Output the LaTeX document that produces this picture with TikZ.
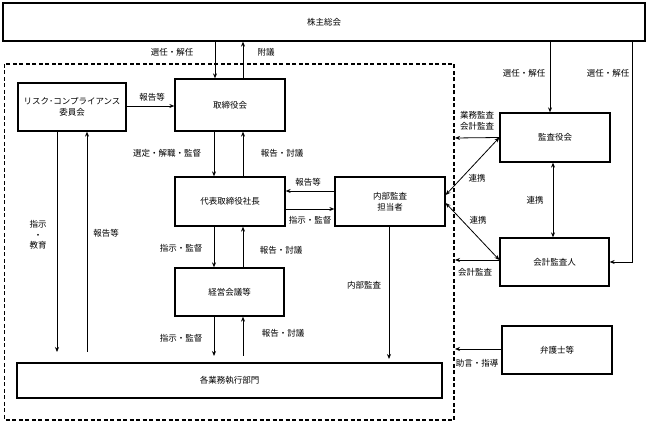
\documentclass[tikz,border=0pt]{standalone}
\usepackage{fontspec}
\setmainfont{Noto Sans CJK JP}
\usetikzlibrary{arrows.meta}
\begin{document}
\begin{tikzpicture}[x=1pt,y=-1pt,
  box/.style={draw,line width=1.3pt,inner sep=0pt,align=center,font=\fontsize{8.5}{11}\selectfont},
  arr/.style={line width=0.8pt,-{Stealth[length=5pt,width=4pt]}},
  darr/.style={line width=0.8pt,{Stealth[length=5pt,width=4pt]}-{Stealth[length=5pt,width=4pt]}},
  lbl/.style={inner sep=0pt,align=center,font=\fontsize{8.5}{10.5}\selectfont},
  lbll/.style={inner sep=0pt,align=left,font=\fontsize{8.5}{11}\selectfont}]
\useasboundingbox[fill=white] (0,0) rectangle (648,427);
% dashed frame
\draw[line width=1.3pt,dash pattern=on 4pt off 2.5pt] (4.5,64) rectangle (454,420);
% boxes
\node[box,minimum width=642pt,minimum height=38pt] (sh) at (324,22) {株主総会};
\node[box,minimum width=108pt,minimum height=48pt] (risk) at (72,107) {リスク･コンプライアンス\\委員会};
\node[box,minimum width=110pt,minimum height=52pt] (bod) at (230,105) {取締役会};
\node[box,minimum width=110pt,minimum height=49pt] (ceo) at (230,201.5) {代表取締役社長};
\node[box,minimum width=110pt,minimum height=49pt] (ia) at (390,201.5) {内部監査\\担当者};
\node[box,minimum width=110pt,minimum height=49pt] (kab) at (555,137.5) {監査役会};
\node[box,minimum width=109pt,minimum height=48pt] (acc) at (554.5,262) {会計監査人};
\node[box,minimum width=109pt,minimum height=48pt] (mgmt) at (229.5,292) {経営会議等};
\node[box,minimum width=425pt,minimum height=35pt] (ops) at (229.5,380.5) {各業務執行部門};
\node[box,minimum width=110pt,minimum height=48pt] (law) at (557,350) {弁護士等};
% free ends
\coordinate (dK) at (455,138);
\coordinate (dA) at (455,260);
\coordinate (dL) at (455,349);
\coordinate (rk1) at (57,352);
\coordinate (rk2) at (87,352);
\coordinate (mg1) at (214,356);
\coordinate (mg2) at (243,356);
\coordinate (ia1) at (389,359);
\coordinate (corner) at (632,262);
% shareholders - board
\draw[arr] (sh.south -| 215,0) -- (bod.north -| 215,0);
\draw[arr] (bod.north -| 243,0) -- (sh.south -| 243,0);
\node[lbl] at (172,52) {選任・解任};
\node[lbl] at (266,52) {附議};
% risk -> board
\draw[arr] (risk.east |- 0,106) -- (bod.west |- 0,106);
\node[lbl] at (152,97) {報告等};
% board - ceo
\draw[arr] (bod.south -| 214,0) -- (ceo.north -| 214,0);
\draw[arr] (ceo.north -| 243,0) -- (bod.south -| 243,0);
\node[lbl] at (167,153) {選定・解職・監督};
\node[lbl] at (282,153) {報告・討議};
% ceo - ia
\draw[arr] (ia.west |- 0,191) -- (ceo.east |- 0,191);
\draw[arr] (ceo.east |- 0,209) -- (ia.west |- 0,209);
\node[lbl] at (308,182) {報告等};
\node[lbl] at (310,220) {指示・監督};
% ceo - mgmt
\draw[arr] (ceo.south -| 214,0) -- (mgmt.north -| 214,0);
\draw[arr] (mgmt.north -| 243,0) -- (ceo.south -| 243,0);
\node[lbl] at (181,248) {指示・監督};
\node[lbl] at (281,250) {報告・討議};
% mgmt - ops
\draw[arr] (mgmt.south -| 214,0) -- (mg1);
\draw[arr] (mg2) -- (mgmt.south -| 243,0);
\node[lbl] at (181,338) {指示・監督};
\node[lbl] at (283,333) {報告・討議};
% risk - ops
\draw[arr] (risk.south -| 57,0) -- (rk1);
\draw[arr] (rk2) -- (risk.south -| 87,0);
\node[lbl] at (38,235) {指示\\・\\教育};
\node[lbl] at (106,233) {報告等};
% ia - ops
\draw[arr] (ia.south -| 389,0) -- (ia1);
\node[lbl] at (364,285) {内部監査};
% shareholders - auditors
\draw[arr] (sh.south -| 550,0) -- (kab.north -| 550,0);
\draw[arr] (sh.south -| 632,0) -- (corner) -- (acc.east |- corner);
\node[lbl] at (524,73) {選任・解任};
\node[lbl] at (608,73) {選任・解任};
% kab
\draw[arr] (kab.west) -- (dK);
\node[lbll] at (477,121) {業務監査\\会計監査};
\draw[darr] (kab.west) -- (ia.east |- 0,195);
\node[lbl] at (477,178) {連携};
\draw[darr] (kab.south -| 553,0) -- (acc.north -| 553,0);
\node[lbl] at (535,200) {連携};
\draw[darr] (ia.east |- 0,203) -- (acc.west |- 0,260);
\node[lbl] at (478,220) {連携};
\draw[arr] (acc.west |- 0,260) -- (dA);
\node[lbl] at (475,272) {会計監査};
\draw[arr] (law.west |- 0,349) -- (dL);
\node[lbl] at (477,363) {助言・指導};
\end{tikzpicture}
\end{document}
